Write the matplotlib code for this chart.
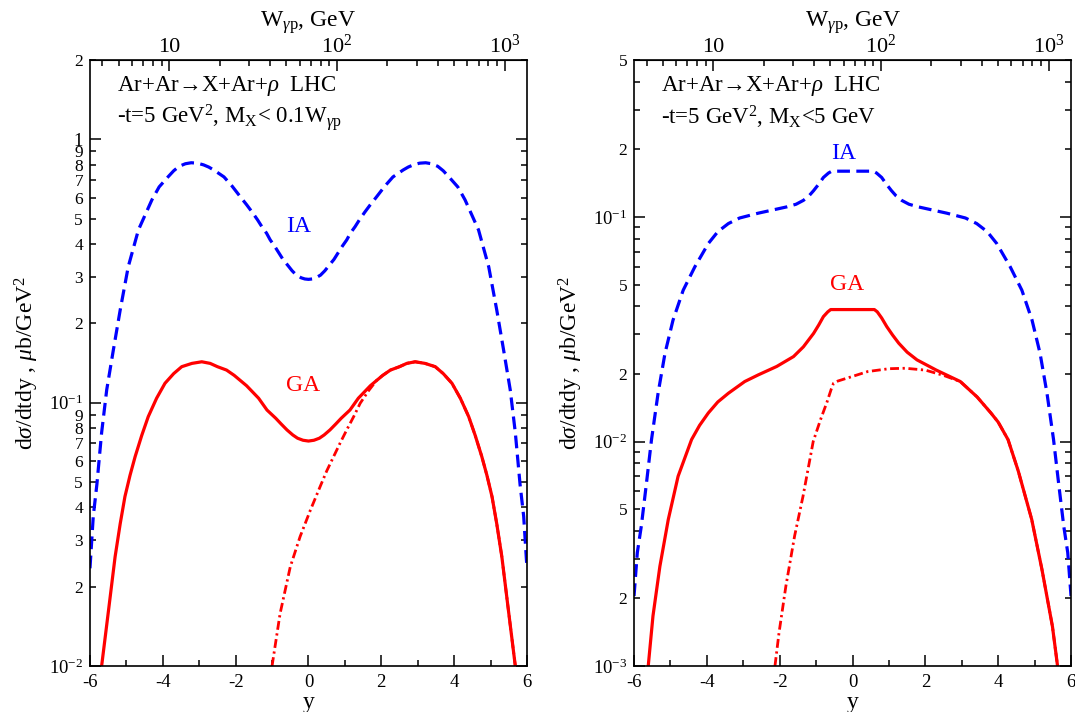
import numpy as np
import matplotlib
matplotlib.use('Agg')
from matplotlib import pyplot as plt

plt.rcParams['font.family'] = ['Liberation Serif', 'DejaVu Serif']
plt.rcParams['mathtext.fontset'] = 'custom'
plt.rcParams['mathtext.rm'] = 'Liberation Serif'
plt.rcParams['mathtext.it'] = 'Liberation Serif:italic'
plt.rcParams['mathtext.bf'] = 'Liberation Serif:bold'
plt.rcParams['mathtext.fallback'] = 'stix'

# ---- left panel: M_X < 0.1 W_gp ----
ia1_y = [-6.0, -5.91, -5.81, -5.68, -5.54, -5.36, -5.17, -4.95, -4.67, -4.30, -4.1, -3.85, -3.7, -3.55,
         -3.38, -3.22, -3.05, -2.88, -2.74, -2.6, -2.32, -2.1, -1.85, -1.7, -1.55, -1.4, -1.28, -1.15,
         -1.05, -0.93, -0.81, -0.7, -0.55, -0.45, -0.33, -0.2, -0.1, 0.0,
         0.1, 0.2, 0.33, 0.45, 0.55, 0.7, 0.81, 0.93, 1.05, 1.15, 1.28, 1.4, 1.55, 1.7, 1.85, 2.1, 2.32,
         2.6, 2.74, 2.88, 3.05, 3.22, 3.38, 3.55, 3.7, 3.85, 4.1, 4.30, 4.67, 4.95, 5.17, 5.36, 5.54,
         5.68, 5.81, 5.91, 6.0]
ia1_v = [0.0235, 0.037, 0.049, 0.077, 0.112, 0.158, 0.225, 0.328, 0.453, 0.589, 0.66, 0.722, 0.76, 0.79,
         0.808, 0.815, 0.812, 0.80, 0.785, 0.765, 0.72, 0.665, 0.60, 0.565, 0.53, 0.495, 0.466, 0.44,
         0.415, 0.393, 0.37, 0.35, 0.33, 0.317, 0.305, 0.298, 0.295, 0.294,
         0.295, 0.298, 0.305, 0.317, 0.33, 0.35, 0.37, 0.393, 0.415, 0.44, 0.466, 0.495, 0.53, 0.565, 0.60, 0.665, 0.72,
         0.765, 0.785, 0.80, 0.812, 0.815, 0.808, 0.79, 0.76, 0.722, 0.66, 0.589, 0.453, 0.328, 0.225, 0.158, 0.112,
         0.077, 0.049, 0.037, 0.0235]

ga1_y = [-5.68, -5.49, -5.31, -5.17, -5.04, -4.9, -4.76, -4.58, -4.40, -4.17, -3.94, -3.7, -3.48, -3.2,
         -2.93, -2.7, -2.5, -2.25, -2.04, -1.7, -1.37, -1.14, -0.90, -0.75, -0.59, -0.43, -0.3, -0.15, 0.0,
         0.15, 0.3, 0.43, 0.59, 0.75, 0.90, 1.14, 1.37, 1.7, 2.04, 2.25, 2.5, 2.7,
         2.93, 3.2, 3.48, 3.7, 3.94, 4.17, 4.40, 4.58, 4.76, 4.9, 5.04, 5.17, 5.31, 5.49, 5.68]
ga1_v = [0.01, 0.0163, 0.026, 0.0347, 0.044, 0.053, 0.0624, 0.075, 0.0885, 0.104, 0.1185, 0.129, 0.137, 0.141,
         0.143, 0.141, 0.137, 0.133, 0.127, 0.116, 0.104, 0.0938, 0.0873, 0.083, 0.0788, 0.0754, 0.0733, 0.072, 0.0715,
         0.072, 0.0733, 0.0754, 0.0788, 0.083, 0.0873, 0.0938, 0.104, 0.116, 0.127, 0.133, 0.137, 0.141,
         0.143, 0.141, 0.137, 0.129, 0.1185, 0.104, 0.0885, 0.075, 0.0624, 0.053, 0.044, 0.0347, 0.026, 0.0163, 0.01]

dd1_y = [-1.0, -0.78, -0.50, -0.23, 0.05, 0.32, 0.5, 0.69, 0.87, 1.05, 1.25, 1.42, 1.65, 1.88, 2.04, 2.25, 2.5, 2.7,
         2.93, 3.2, 3.48, 3.7, 3.94, 4.17, 4.40, 4.58, 4.76, 4.9, 5.04, 5.17, 5.31, 5.49, 5.68]
dd1_v = [0.01, 0.0158, 0.0238, 0.031, 0.039, 0.048, 0.055, 0.0624, 0.0703, 0.0788, 0.089, 0.0995, 0.111, 0.122, 0.127, 0.133, 0.137, 0.141,
         0.143, 0.141, 0.137, 0.129, 0.1185, 0.104, 0.0885, 0.075, 0.0624, 0.053, 0.044, 0.0347, 0.026, 0.0163, 0.01]

# ---- right panel: M_X < 5 GeV ----
ia2_y = [-6.0, -5.91, -5.80, -5.66, -5.52, -5.34, -5.15, -4.93, -4.65, -4.33, -3.96, -3.7, -3.41, -3.1,
         -2.59, -2.02, -1.80, -1.55, -1.35, -1.2, -1.07, -0.93, -0.80, -0.66, -0.57, 0.57, 0.66, 0.80, 0.93, 1.07,
         1.2, 1.35, 1.55, 1.80, 2.02, 2.59, 3.1, 3.41, 3.7, 3.96, 4.33, 4.65, 4.93, 5.15, 5.34, 5.52, 5.66,
         5.80, 5.91, 6.0]
ia2_v = [0.00205, 0.0032, 0.0042, 0.0065, 0.0102, 0.0164, 0.0247, 0.0347, 0.0472, 0.06, 0.0762, 0.086, 0.0935, 0.099,
         0.104, 0.109, 0.111, 0.114, 0.1186, 0.124, 0.131, 0.14, 0.150, 0.157, 0.16, 0.16, 0.157, 0.150, 0.14, 0.131,
         0.124, 0.1186, 0.114, 0.111, 0.109, 0.104, 0.099, 0.0935, 0.086, 0.0762, 0.06, 0.0472, 0.0347, 0.0247, 0.0164, 0.0102, 0.0065,
         0.0042, 0.0032, 0.00205]

ga2_y = [-5.61, -5.48, -5.29, -5.06, -4.79, -4.42, -4.2, -3.96, -3.7, -3.41, -2.96, -2.59, -2.08, -1.62, -1.35,
         -1.07, -0.93, -0.80, -0.68, -0.6, 0.6, 0.68, 0.80, 0.94, 1.1, 1.27, 1.5, 1.77, 2.30, 2.96, 3.42, 3.80,
         4.0, 4.27, 4.55, 4.92, 5.20, 5.49, 5.63]
ga2_v = [0.001, 0.00167, 0.00278, 0.00449, 0.0070, 0.0102, 0.0118, 0.0134, 0.015, 0.0164, 0.0185, 0.0198, 0.0216, 0.0239, 0.0264,
         0.0303, 0.033, 0.036, 0.0378, 0.0387, 0.0387, 0.0378, 0.0355, 0.0325, 0.0298, 0.0274, 0.025, 0.0231, 0.0208, 0.0185, 0.0158, 0.0134,
         0.0122, 0.0102, 0.0074, 0.0045, 0.0027, 0.0015, 0.001]

dd2_y = [-2.13, -2.02, -1.83, -1.59, -1.36, -1.08, -0.88, -0.70, -0.58, -0.52, -0.4, 0.0, 0.42, 1.0, 1.45, 2.0, 2.5,
         2.96, 3.42, 3.80, 4.0, 4.27, 4.55, 4.92, 5.20, 5.49, 5.63]
dd2_v = [0.001, 0.0014, 0.00227, 0.0038, 0.0057, 0.0100, 0.0125, 0.015, 0.0172, 0.0182, 0.0186, 0.0195, 0.0205, 0.0211, 0.0212, 0.0208, 0.0197,
         0.0185, 0.0158, 0.0134, 0.0122, 0.0102, 0.0074, 0.0045, 0.0027, 0.0015, 0.001]

x_ticks = [-6, -4, -2, 0, 2, 4, 6]
x_labels = ['-6', '-4', '-2', '0', '2', '4', '6']
w_major = [10, 100, 1000]
w_labels = ['10', '10$^2$', '10$^3$']
w_minor = [4, 5, 6, 7, 8, 9, 20, 30, 40, 50, 60, 70, 80, 90, 200, 300, 400, 500, 600, 700, 800, 900]

W0 = 67.7  # W_gp at y = 0


def y_to_w(y):
    return W0 * np.exp(np.asarray(y, dtype=float) / 2.0)


def w_to_y(w):
    w = np.asarray(w, dtype=float)
    with np.errstate(divide='ignore', invalid='ignore'):
        return 2.0 * np.log(w / W0)


def setup(ax, ylim, ymaj, ymaj_lab, ymin, ymin_lab, txt2):
    ax.set_yscale('log')
    ax.set_xlim(-6, 6)
    ax.set_ylim(*ylim)
    ax.set_xticks(x_ticks, labels=x_labels)
    ax.set_xticks([-5, -3, -1, 1, 3, 5], minor=True)
    ax.set_yticks(ymaj, labels=ymaj_lab)
    ax.set_yticks(ymin, labels=ymin_lab, minor=True)
    ax.tick_params(which='both', direction='in', top=False, right=True, width=1.1)
    ax.tick_params(which='major', length=8, labelsize=13.5)
    ax.tick_params(which='minor', length=4.5, labelsize=12.5)
    ax.tick_params(axis='x', which='both', pad=6)
    ax.tick_params(axis='y', which='both', pad=5)
    for s in ax.spines.values():
        s.set_linewidth(1.2)
    ax.set_xlabel('y', fontsize=17)
    ax.xaxis.set_label_coords(0.5, -0.043)
    ax.set_ylabel(r'd$\sigma$/dtdy , $\mu$b/GeV$^2$', fontsize=17)
    ax.yaxis.set_label_coords(-0.113, 0.5)

    sec = ax.secondary_xaxis('top', functions=(y_to_w, w_to_y))
    sec.set_ticks(w_major, labels=w_labels)
    sec.set_ticks(w_minor, minor=True)
    sec.tick_params(which='both', direction='in', width=1.1, pad=2, labelsize=16)
    sec.tick_params(which='major', length=8)
    sec.tick_params(which='minor', length=4.5)
    sec.set_xlabel(r'W$_{\gamma \mathrm{p}}$, GeV', fontsize=17, labelpad=5)

    ax.text(0.062, 0.958, 'Ar+Ar→X+Ar+$\\rho$  LHC', transform=ax.transAxes,
            fontsize=16.5, va='center', ha='left')
    ax.text(0.062, 0.905, txt2, transform=ax.transAxes,
            fontsize=16.5, va='center', ha='left')


fig = plt.figure(figsize=(10.75, 7.12), dpi=100)
ax1 = fig.add_axes([0.0837, 0.0646, 0.4065, 0.851])
ax2 = fig.add_axes([0.5898, 0.0646, 0.4065, 0.851])

ax1.plot(ia1_y, ia1_v, color='#0000ff', lw=2.3, linestyle=(0, (4, 2)))
ax1.plot(ga1_y, ga1_v, color='#ff0000', lw=2.3)
ax1.plot(dd1_y, dd1_v, color='#ff0000', lw=2.0, linestyle=(0, (3.2, 1.3, 0.8, 1.3)))
ax1.text(-0.26, 0.466, 'IA', color='#0000ff', fontsize=17, ha='center', va='center')
ax1.text(-0.15, 0.1167, 'GA', color='#ff0000', fontsize=17, ha='center', va='center')
setup(ax1, (0.01, 2),
      [0.01, 0.1, 1], ['10$^{-2}$', '10$^{-1}$', '1'],
      [0.02, 0.03, 0.04, 0.05, 0.06, 0.07, 0.08, 0.09,
       0.2, 0.3, 0.4, 0.5, 0.6, 0.7, 0.8, 0.9, 2],
      ['2', '3', '4', '5', '6', '7', '8', '9', '2', '3', '4', '5', '6', '7', '8', '9', '2'],
      r'-t=5 GeV$^2$, M$_\mathrm{X}$< 0.1W$_{\gamma \mathrm{p}}$')

ax2.plot(ia2_y, ia2_v, color='#0000ff', lw=2.3, linestyle=(0, (4, 2)))
ax2.plot(ga2_y, ga2_v, color='#ff0000', lw=2.3)
ax2.plot(dd2_y, dd2_v, color='#ff0000', lw=2.0, linestyle=(0, (3.2, 1.3, 0.8, 1.3)))
ax2.text(-0.25, 0.191, 'IA', color='#0000ff', fontsize=17, ha='center', va='center')
ax2.text(-0.14, 0.0502, 'GA', color='#ff0000', fontsize=17, ha='center', va='center')
setup(ax2, (0.001, 0.5),
      [0.001, 0.01, 0.1], ['10$^{-3}$', '10$^{-2}$', '10$^{-1}$'],
      [0.002, 0.003, 0.004, 0.005, 0.006, 0.007, 0.008, 0.009,
       0.02, 0.03, 0.04, 0.05, 0.06, 0.07, 0.08, 0.09,
       0.2, 0.3, 0.4, 0.5],
      ['2', '', '', '5', '', '', '', '', '2', '', '', '5', '', '', '', '', '2', '', '', '5'],
      r'-t=5 GeV$^2$, M$_\mathrm{X}$<5 GeV')

fig.savefig('out.png', dpi=100)
